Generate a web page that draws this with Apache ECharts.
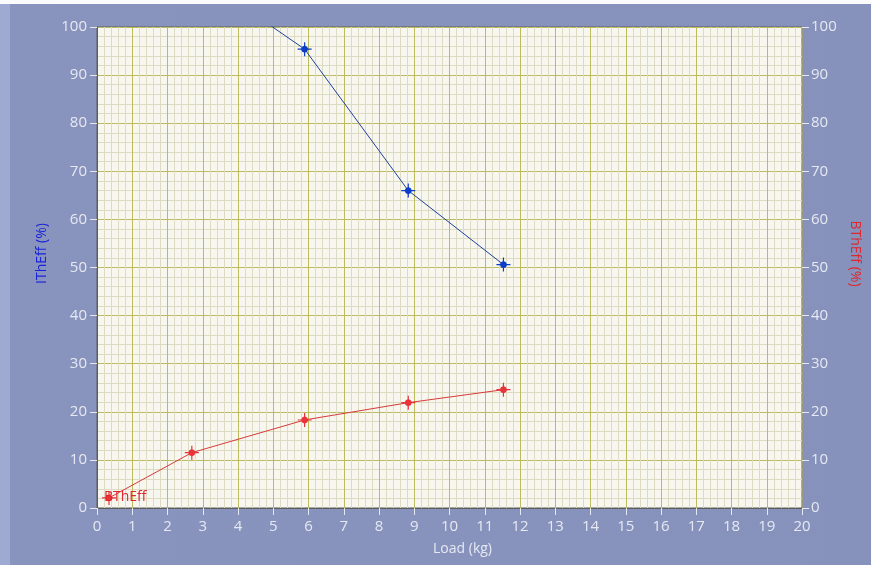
<!DOCTYPE html>
<html>
<head>
<meta charset="utf-8">
<script src="https://cdn.jsdelivr.net/npm/echarts@6/dist/echarts.min.js"></script>
<style>
html,body{margin:0;padding:0;background:#fbfbfd;width:871px;height:565px;overflow:hidden;}
#c{position:absolute;left:0;top:4px;width:871px;height:561px;}
</style>
</head>
<body>
<div id="c"></div>
<script>
// Data
const loads = [0.34, 2.69, 5.89, 8.83, 11.53];
const itEff = [null, 111.6, 95.4, 66.0, 50.6];   // IThEff (%) – left axis (clipped above 100)
const btEff = [2.1, 11.5, 18.3, 21.9, 24.6];      // BThEff (%) – right axis
const xTicks = [0, 20, 1];
const yTicks = [0, 100, 10];

const star = 'path://M-0.6,-7 L0.6,-7 L0.6,-3.4 A3.5,3.5 0 0 1 3.4,-0.6 L7,-0.6 L7,0.6 L3.4,0.6 A3.5,3.5 0 0 1 0.6,3.4 L0.6,7 L-0.6,7 L-0.6,3.4 A3.5,3.5 0 0 1 -3.4,0.6 L-7,0.6 L-7,-0.6 L-3.4,-0.6 A3.5,3.5 0 0 1 -0.6,-3.4 Z';

const FONT = '"Open Sans", "Noto Sans", sans-serif';
const labelColor = '#e6e9f3';

const chart = echarts.init(document.getElementById('c'), null, {renderer: 'canvas'});

function pairs(xs, ys) {
  return xs.map((x, i) => [x, ys[i]]);
}

const btData = pairs(loads, btEff).map((p, i) => {
  if (i === 0) {
    return {
      value: p,
      label: {
        show: true, formatter: 'BThEff', position: [2, -1],
        color: '#e0262e', fontSize: 14, fontFamily: FONT
      }
    };
  }
  return p;
});

chart.setOption({
  backgroundColor: {
    type: 'linear', x: 0, y: 0, x2: 1, y2: 0,
    colorStops: [
      {offset: 0, color: '#9eaad2'},
      {offset: 0.011, color: '#9eaad2'},
      {offset: 0.012, color: '#8894bd'},
      {offset: 1, color: '#8692bb'}
    ]
  },
  animation: false,
  grid: {
    left: 97, right: 69, top: 23, bottom: 57,
    show: true, backgroundColor: '#f8f7ef',
    borderColor: '#5c5c5c', borderWidth: 1
  },
  xAxis: {
    type: 'value', min: xTicks[0], max: xTicks[1], interval: xTicks[2],
    name: 'Load (kg)', nameLocation: 'middle', nameGap: 34,
    nameTextStyle: {color: labelColor, fontSize: 14, fontFamily: FONT, padding: [0, 0, 0, 26]},
    axisLine: {show: true, onZero: false, lineStyle: {color: '#5c5c5c'}},
    axisTick: {show: true, length: 7, lineStyle: {color: labelColor}},
    axisLabel: {color: labelColor, fontSize: 15, fontFamily: FONT, margin: 11},
    splitLine: {show: true, lineStyle: {color: '#bcbc5e', width: 1}},
    minorTick: {show: false, splitNumber: 5},
    minorSplitLine: {show: true, lineStyle: {color: '#dddcc2', width: 1}}
  },
  yAxis: [
    {
      type: 'value', min: yTicks[0], max: yTicks[1], interval: yTicks[2],
      position: 'left',
      name: 'IThEff (%)', nameLocation: 'middle', nameGap: 48, nameRotate: 90,
      nameTextStyle: {color: '#1a23d8', fontSize: 14, fontFamily: FONT, padding: [0, 0, 0, 28]},
      axisLine: {show: true, lineStyle: {color: '#5c5c5c'}},
      axisTick: {show: true, length: 7, lineStyle: {color: labelColor}},
      axisLabel: {color: labelColor, fontSize: 15, fontFamily: FONT, margin: 10},
      splitLine: {show: true, lineStyle: {color: '#bcbc5e', width: 1}},
      minorTick: {show: false, splitNumber: 5},
      minorSplitLine: {show: true, lineStyle: {color: '#dddcc2', width: 1}}
    },
    {
      type: 'value', min: yTicks[0], max: yTicks[1], interval: yTicks[2],
      position: 'right',
      name: 'BThEff (%)', nameLocation: 'middle', nameGap: 42, nameRotate: -90,
      nameTextStyle: {color: '#e0262e', fontSize: 14, fontFamily: FONT, padding: [0, 28, 0, 0]},
      axisLine: {show: true, lineStyle: {color: '#9a9a7a'}},
      axisTick: {show: true, length: 7, lineStyle: {color: labelColor}},
      axisLabel: {color: labelColor, fontSize: 15, fontFamily: FONT, margin: 9},
      splitLine: {show: false}
    }
  ],
  series: [
    {
      name: 'IThEff', type: 'line', yAxisIndex: 0, clip: true,
      data: pairs(loads, itEff), connectNulls: false,
      symbol: star, symbolSize: 14,
      itemStyle: {color: '#0c3cc8'},
      lineStyle: {color: '#1f3f9a', width: 1}
    },
    {
      name: 'BThEff', type: 'line', yAxisIndex: 1, clip: false,
      data: btData,
      symbol: star, symbolSize: 14,
      itemStyle: {color: '#e8333a'},
      lineStyle: {color: '#d83a3a', width: 1}
    }
  ]
});
</script>
</body>
</html>
